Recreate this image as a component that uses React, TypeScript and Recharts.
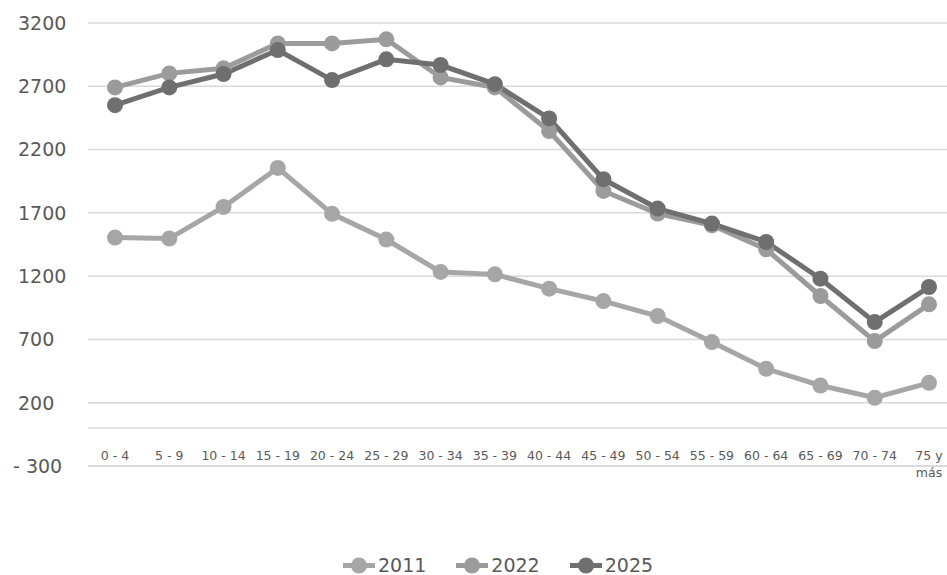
import React from 'react';
import { LineChart, Line, XAxis, YAxis, CartesianGrid, ReferenceLine, Legend } from 'recharts';

const categories = ['0 - 4', '5 - 9', '10 - 14', '15 - 19', '20 - 24', '25 - 29', '30 - 34', '35 - 39', '40 - 44', '45 - 49', '50 - 54', '55 - 59', '60 - 64', '65 - 69', '70 - 74', '75 y más'];
const values2011 = [1505, 1497, 1747, 2055, 1692, 1489, 1233, 1214, 1101, 1003, 885, 679, 468, 336, 239, 357];
const values2022 = [2691, 2802, 2842, 3039, 3039, 3071, 2770, 2691, 2346, 1873, 1694, 1602, 1412, 1043, 687, 977];
const values2025 = [2551, 2691, 2797, 2986, 2749, 2913, 2868, 2717, 2446, 1966, 1734, 1615, 1470, 1180, 837, 1114];
const yTicks = [-300, 200, 700, 1200, 1700, 2200, 2700, 3200];
const seriesNames = ['2011', '2022', '2025'];
const seriesColors = ['#a6a6a6', '#9b9b9b', '#6f6f6f'];

const data = categories.map((c, i) => ({
  cat: c,
  s2011: values2011[i],
  s2022: values2022[i],
  s2025: values2025[i],
}));

const FONT = 'DejaVu Sans';
const TEXT = '#595959';

const formatY = (v: number) => (v < 0 ? '- ' + Math.abs(v) : String(v));

const YTick = (props: any) => {
  const { x, y, payload } = props;
  const v = payload.value as number;
  const tx = v < 0 ? x - 75 : x - 70;
  return (
    <text x={tx} y={y} dy="0.36em" textAnchor="start" fill={TEXT} fontSize={19} fontFamily={FONT}>
      {formatY(v)}
    </text>
  );
};

const XTick = (props: any) => {
  const { x, y, payload } = props;
  const label = String(payload.value);
  let lines = [label];
  if (!label.includes('-')) {
    const parts = label.split(' ');
    lines = [parts.slice(0, parts.length - 1).join(' '), parts[parts.length - 1]];
  }
  return (
    <text x={x} y={y - 6} textAnchor="middle" fill={TEXT} fontSize={12.5} fontFamily={FONT}>
      {lines.map((l, i) => (
        <tspan key={i} x={x} dy={i === 0 ? 0 : 17}>
          {l}
        </tspan>
      ))}
    </text>
  );
};

const LegendContent = () => (
  <div style={{ display: 'flex', alignItems: 'center', gap: 30, fontFamily: FONT, fontSize: 19, lineHeight: '17px', height: 17, color: TEXT, whiteSpace: 'nowrap' }}>
    {seriesNames.map((n, i) => (
      <div key={n} style={{ display: 'flex', alignItems: 'center', height: 17 }}>
        <svg width={32} height={17} style={{ display: 'block' }}>
          <line x1={0} y1={8.5} x2={32} y2={8.5} stroke={seriesColors[i]} strokeWidth={5} />
          <circle cx={16} cy={8.5} r={8} fill={seriesColors[i]} />
        </svg>
        <span style={{ marginLeft: 3 }}>{n}</span>
      </div>
    ))}
  </div>
);

export default function App() {
  return (
    <div style={{ position: 'fixed', left: 0, top: 0, width: 947, height: 575, overflow: 'hidden', background: '#ffffff' }}>
      <LineChart width={970} height={575} data={data} margin={{ top: 23, right: 14, left: 0, bottom: 79 }}>
        <CartesianGrid vertical={false} stroke="#d9d9d9" strokeWidth={1.5} />
        <XAxis
          dataKey="cat"
          axisLine={false}
          tickLine={false}
          tickSize={0}
          tickMargin={0}
          height={30}
          interval={0}
          padding={{ left: 27, right: 27 }}
          tick={<XTick />}
        />
        <YAxis
          domain={[-300, 3200]}
          ticks={yTicks}
          width={88}
          axisLine={false}
          tickLine={false}
          tickSize={0}
          tickMargin={0}
          interval={0}
          tick={<YTick />}
        />
        <ReferenceLine y={0} stroke="#d9d9d9" strokeWidth={1.5} />
        <ReferenceLine y={-300} stroke="#d9d9d9" strokeWidth={1.5} />
        <Legend
          verticalAlign="middle"
          layout="horizontal"
          content={<LegendContent />}
          wrapperStyle={{ position: 'absolute', top: 557, left: 343, width: 360, height: 17 }}
        />
        <Line
          dataKey="s2011"
          name="2011"
          stroke={seriesColors[0]}
          strokeWidth={5}
          dot={{ r: 8, fill: seriesColors[0], stroke: seriesColors[0], strokeWidth: 0 }}
          activeDot={false}
          isAnimationActive={false}
        />
        <Line
          dataKey="s2022"
          name="2022"
          stroke={seriesColors[1]}
          strokeWidth={5}
          dot={{ r: 8, fill: seriesColors[1], stroke: seriesColors[1], strokeWidth: 0 }}
          activeDot={false}
          isAnimationActive={false}
        />
        <Line
          dataKey="s2025"
          name="2025"
          stroke={seriesColors[2]}
          strokeWidth={5}
          dot={{ r: 8, fill: seriesColors[2], stroke: seriesColors[2], strokeWidth: 0 }}
          activeDot={false}
          isAnimationActive={false}
        />
      </LineChart>
    </div>
  );
}
